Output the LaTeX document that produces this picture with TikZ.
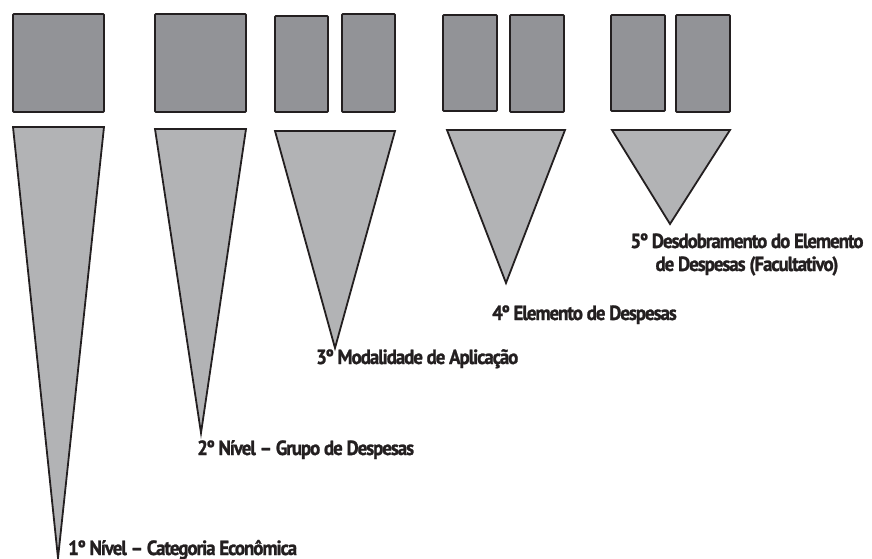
\documentclass[tikz,border=0pt]{standalone}
\usepackage{fontspec}
\setmainfont{PT Sans}[BoldFont={PT Sans Bold}]
\newfontfamily\lblfont{PT Sans Bold}[LetterSpace=-5,FakeBold=1.2,FakeStretch=0.92]
\definecolor{boxgray}{HTML}{929397}
\definecolor{trigray}{HTML}{B2B3B5}
\definecolor{inkdark}{HTML}{231F20}
\begin{document}
\begin{tikzpicture}[x=1pt,y=-1pt,
  blk/.style={draw=inkdark,fill=boxgray,line width=1.8pt,rounded corners=0.8pt},
  tri/.style={draw=inkdark,fill=trigray,line width=1.8pt,line join=miter},
  lbl/.style={inner sep=0pt,text=inkdark,font=\lblfont\fontsize{20.5}{23}\selectfont}]
\useasboundingbox (0,0) rectangle (872,559);
% boxes
\draw[blk] (13,14) rectangle (104,112);
\draw[blk] (155,14) rectangle (246,112);
\draw[blk] (275,16) rectangle (328,112);
\draw[blk] (342,14) rectangle (395,112);
\draw[blk] (443,15) rectangle (497,111);
\draw[blk] (510,15) rectangle (564,112);
\draw[blk] (611,15) rectangle (665,111);
\draw[blk] (676,15) rectangle (730,112);
% triangles
\draw[tri] (13,127) -- (104,127) -- (58,558) -- cycle;
\draw[tri] (155,129) -- (246,129) -- (201,433) -- cycle;
\draw[tri] (275,131) -- (395,131) -- (335,348) -- cycle;
\draw[tri] (447,130) -- (565,130) -- (506,283) -- cycle;
\draw[tri] (612,130) -- (730,130) -- (670,224) -- cycle;
% labels
\node[lbl,anchor=base west] (l1) at (68,555) {1º Nível – Categoria Econômica};
\node[lbl,anchor=base west] (l2) at (197,455) {2º Nível – Grupo de Despesas};
\node[lbl,anchor=base west] (l3) at (316,364) {3º Modalidade de Aplicação};
\node[lbl,anchor=base west] (l4) at (492,320) {4º Elemento de Despesas};
\node[lbl,anchor=base] (l5a) at (747,248) {5º Desdobramento do Elemento};
\node[lbl,anchor=base] (l5b) at (747,271) {de Despesas (Facultativo)};
\end{tikzpicture}
\end{document}
